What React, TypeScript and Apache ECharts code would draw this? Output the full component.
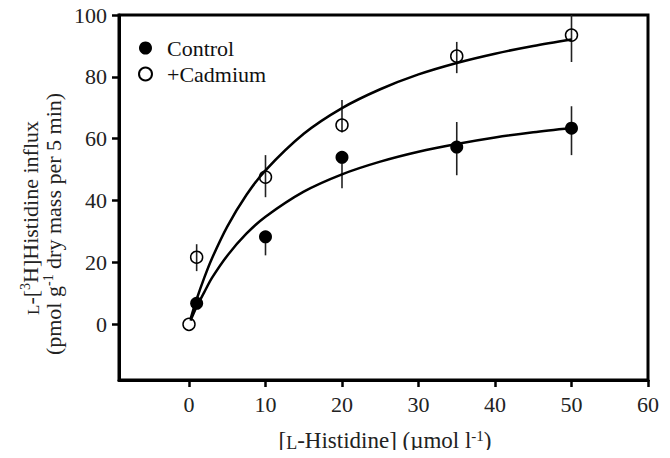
import React, { useEffect, useRef } from "react";
import * as echarts from "echarts";

const xTicks = [0, 10, 20, 30, 40, 50, 60];
const yTicks = [0, 20, 40, 60, 80, 100];

const controlX = [1, 10, 20, 35, 50];
const controlY = [6.8, 28.3, 54, 57.3, 63.4];
const controlLow = [null, 22.3, 44, 48.2, 54.7];
const controlHigh = [null, 30, 55.5, 65.4, 70.5];

const cadmiumX = [0, 1, 10, 20, 35, 50];
const cadmiumY = [0, 21.7, 47.6, 64.4, 86.7, 93.5];
const cadmiumLow = [null, 17.2, 41.1, 62, 81.2, 84.8];
const cadmiumHigh = [null, 25.9, 54.7, 72.5, 91.3, 100];

// fitted curves
const curveX = [0.2, 1, 2, 3, 5, 7.5, 10, 15, 20, 25, 30, 35, 40, 45, 50];
const controlFit = [1.2, 5.7, 10.4, 15.0, 22.2, 29.3, 34.8, 42.9, 48.5, 52.6, 55.8, 58.3, 60.4, 62.1, 63.5];
const cadmiumFit = [1.7, 8.1, 15.1, 21.3, 31.6, 41.8, 49.8, 61.6, 69.9, 76.0, 80.8, 84.5, 87.5, 90.0, 92.1];

const FONT = "Liberation Serif";

export default function App() {
  const ref = useRef<HTMLDivElement>(null);
  useEffect(() => {
    if (!ref.current) return;
    const chart = echarts.init(ref.current, null, { renderer: "svg" });
    const errData = (xs: number[], lo: (number | null)[], hi: (number | null)[]) =>
      xs
        .map((x, i) => (lo[i] == null ? null : [x, lo[i], hi[i]]))
        .filter((d) => d !== null);
    const renderErr = (_params: any, api: any) => {
      const p1 = api.coord([api.value(0), api.value(1)]);
      const p2 = api.coord([api.value(0), api.value(2)]);
      return {
        type: "line",
        shape: { x1: p1[0], y1: p1[1], x2: p2[0], y2: p2[1] },
        style: { stroke: "#222", lineWidth: 1.6 },
      };
    };
    const option: any = {
      animation: false,
      backgroundColor: "#fff",
      textStyle: { fontFamily: FONT },
      grid: {
        left: 119,
        top: 15,
        right: 22,
        bottom: 78,
        show: true,
        borderColor: "#000",
        borderWidth: 3,
        backgroundColor: "transparent",
      },
      legend: {
        orient: "vertical",
        left: 133,
        top: 32,
        itemWidth: 13,
        itemHeight: 13,
        itemGap: 4,
        data: ["Control", "+Cadmium"],
        textStyle: {
          fontFamily: FONT,
          fontSize: 22,
          color: "#111",
          lineHeight: 22,
          padding: [0, 0, 0, 10],
        },
      },
      xAxis: {
        type: "value",
        min: -9.15,
        max: 60,
        splitLine: { show: false },
        axisLine: { onZero: false, lineStyle: { color: "#000", width: 3 } },
        axisTick: {
          show: true,
          customValues: xTicks,
          length: 7,
          lineStyle: { color: "#000", width: 2.5 },
        },
        axisLabel: {
          customValues: xTicks,
          fontFamily: FONT,
          fontSize: 22,
          color: "#222",
          margin: 13,
        },
      },
      yAxis: {
        type: "value",
        min: -18,
        max: 100,
        splitLine: { show: false },
        axisLine: { onZero: false, lineStyle: { color: "#000", width: 3 } },
        axisTick: {
          show: true,
          customValues: yTicks,
          length: 7,
          lineStyle: { color: "#000", width: 2.5 },
        },
        axisLabel: {
          customValues: yTicks,
          fontFamily: FONT,
          fontSize: 22,
          color: "#222",
          margin: 12,
        },
      },
      series: [
        {
          type: "custom",
          name: "errControl",
          renderItem: renderErr,
          encode: { x: 0, y: [1, 2] },
          data: errData(controlX, controlLow, controlHigh),
          z: 1,
        },
        {
          type: "custom",
          name: "errCadmium",
          renderItem: renderErr,
          encode: { x: 0, y: [1, 2] },
          data: errData(cadmiumX, cadmiumLow, cadmiumHigh),
          z: 1,
        },
        {
          type: "line",
          name: "fitControl",
          data: curveX.map((x, i) => [x, controlFit[i]]),
          smooth: 0.3,
          showSymbol: false,
          lineStyle: { color: "#000", width: 2.5 },
          z: 2,
        },
        {
          type: "line",
          name: "fitCadmium",
          data: curveX.map((x, i) => [x, cadmiumFit[i]]),
          smooth: 0.3,
          showSymbol: false,
          lineStyle: { color: "#000", width: 2.5 },
          z: 2,
        },
        {
          type: "scatter",
          name: "Control",
          data: controlX.map((x, i) => [x, controlY[i]]),
          symbol: "circle",
          symbolSize: 13,
          itemStyle: { color: "#000", borderColor: "#000", borderWidth: 0, opacity: 1 },
          z: 3,
        },
        {
          type: "scatter",
          name: "+Cadmium",
          data: cadmiumX.map((x, i) => [x, cadmiumY[i]]),
          symbol: "circle",
          symbolSize: 12,
          itemStyle: { color: "rgba(255,255,255,0)", borderColor: "#000", borderWidth: 1.5, opacity: 1 },
          z: 3,
        },
      ],
      graphic: [
        {
          type: "text",
          x: 30,
          y: 218,
          rotation: Math.PI / 2,
          style: {
            text: "{sc|L}-[{sup|3}H]Histidine influx",
            fontFamily: FONT,
            fontSize: 22,
            fill: "#222",
            textAlign: "center",
            textVerticalAlign: "middle",
            rich: {
              sc: { fontFamily: FONT, fontSize: 17, fill: "#222", lineHeight: 24, verticalAlign: "bottom" },
              sup: { fontFamily: FONT, fontSize: 14, fill: "#222", lineHeight: 24, verticalAlign: "top" },
            },
          },
        },
        {
          type: "text",
          x: 53,
          y: 224,
          rotation: Math.PI / 2,
          style: {
            text: "(pmol g{sup|-1} dry mass per 5 min)",
            fontFamily: FONT,
            fontSize: 22,
            fill: "#222",
            textAlign: "center",
            textVerticalAlign: "middle",
            rich: {
              sup: { fontFamily: FONT, fontSize: 14, fill: "#222", lineHeight: 24, verticalAlign: "top" },
            },
          },
        },
        {
          type: "text",
          x: 385,
          y: 440,
          style: {
            text: "[{sc|L}-Histidine] (\u00b5mol l{sup|-1})",
            fontFamily: FONT,
            fontSize: 23,
            fill: "#222",
            textAlign: "center",
            textVerticalAlign: "middle",
            rich: {
              sc: { fontFamily: FONT, fontSize: 18, fill: "#222", lineHeight: 24, verticalAlign: "bottom" },
              sup: { fontFamily: FONT, fontSize: 15, fill: "#222", lineHeight: 24, verticalAlign: "top" },
            },
          },
        },
      ],
    };
    chart.setOption(option);
    return () => chart.dispose();
  }, []);
  return <div ref={ref} style={{ width: 670, height: 458, margin: -8 }} />;
}
